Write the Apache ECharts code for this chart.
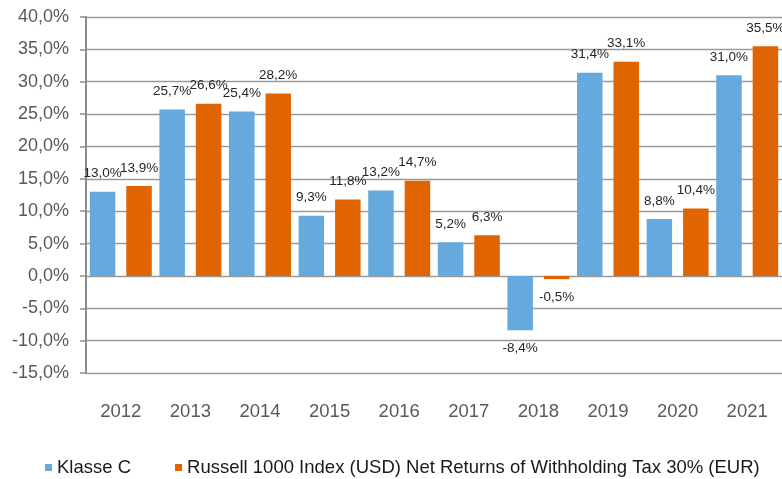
<!DOCTYPE html>
<html>
<head>
<meta charset="utf-8">
<script src="https://cdn.jsdelivr.net/npm/echarts@6/dist/echarts.min.js"></script>
<style>
  html, body { margin: 0; padding: 0; background: #fff; }
  #chart { width: 782px; height: 479px; }
</style>
</head>
<body>
<div id="chart"></div>
<script>
// 年份
const years = ['2012', '2013', '2014', '2015', '2016', '2017', '2018', '2019', '2020', '2021']
// Klasse C
const klasseC = [13.0, 25.7, 25.4, 9.3, 13.2, 5.2, -8.4, 31.4, 8.8, 31.0]
// Russell 1000 Index
const russell = [13.9, 26.6, 28.2, 11.8, 14.7, 6.3, -0.5, 33.1, 10.4, 35.5]

const seriesNames = ['Klasse C', 'Russell 1000 Index (USD) Net Returns of Withholding Tax 30% (EUR)']

const fmt = v => v.toFixed(1).replace('.', ',') + '%'

// 负值标签放在柱子下方
const toData = arr => arr.map(v => ({
  value: v,
  label: { position: v < 0 ? 'bottom' : 'top' }
}))

const chart = echarts.init(document.getElementById('chart'))

const labelStyle = {
  show: true,
  distance: 11,
  fontFamily: 'Liberation Sans',
  fontSize: 13.5,
  color: '#262626',
  formatter: p => fmt(p.value)
}

chart.setOption({
  animation: false,
  textStyle: { fontFamily: 'Liberation Sans' },
  grid: { left: 86, right: 0, top: 17, bottom: 106 },
  legend: {
    data: seriesNames,
    left: 40,
    top: 453,
    icon: 'rect',
    itemWidth: 7,
    itemHeight: 7,
    itemGap: 44,
    textStyle: { fontSize: 18.5, color: '#1a1a1a', fontFamily: 'Liberation Sans' }
  },
  xAxis: {
    type: 'category',
    data: years,
    axisLine: { show: false },
    axisTick: { show: false },
    axisLabel: { margin: 29, fontSize: 18.5, color: '#595959', fontFamily: 'Liberation Sans' }
  },
  yAxis: {
    type: 'value',
    min: -15,
    max: 40,
    interval: 5,
    axisLine: { show: true, lineStyle: { color: '#8c8c8c', width: 2 } },
    axisTick: { show: true, length: 6, lineStyle: { color: '#8c8c8c', width: 1.5 } },
    splitLine: { lineStyle: { color: '#9a9a9a', width: 1.3 } },
    axisLabel: { margin: 17, fontSize: 18, color: '#595959', formatter: v => fmt(v), fontFamily: 'Liberation Sans' }
  },
  series: [
    {
      name: seriesNames[0],
      type: 'bar',
      barWidth: 25.5,
      barGap: '43%',
      itemStyle: { color: '#65a9dd' },
      label: labelStyle,
      data: toData(klasseC)
    },
    {
      name: seriesNames[1],
      type: 'bar',
      barWidth: 25.5,
      barGap: '43%',
      itemStyle: { color: '#e06500' },
      label: labelStyle,
      data: toData(russell)
    }
  ]
})
</script>
</body>
</html>
